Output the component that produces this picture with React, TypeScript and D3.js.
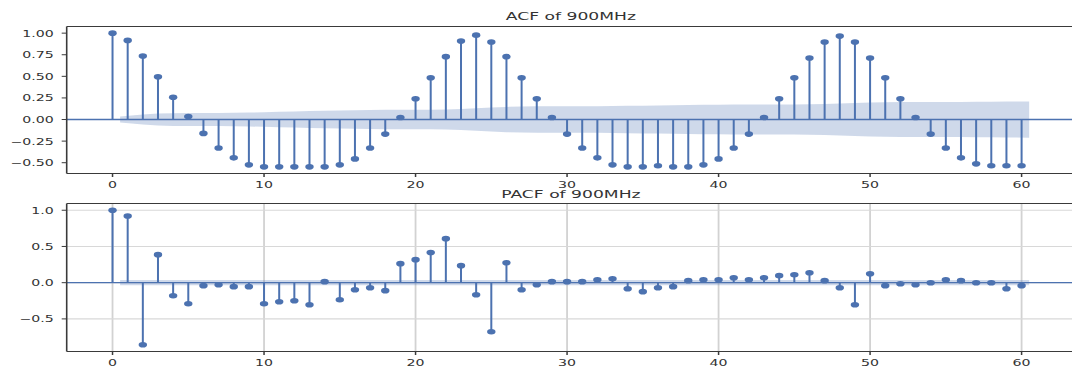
import React, { useEffect, useRef } from "react";
import * as d3 from "d3";

const W = 1072;
const H = 367;
const SX = 1.52; // the source picture is stretched sideways

const lags = d3.range(0, 61);

const acfValues = [
  1.0, 0.916, 0.736, 0.494, 0.257, 0.034, -0.161, -0.33, -0.444, -0.525,
  -0.548, -0.548, -0.548, -0.548, -0.548, -0.525, -0.456, -0.33, -0.169, 0.023,
  0.241, 0.483, 0.728, 0.908, 0.977, 0.897, 0.728, 0.483, 0.241, 0.023,
  -0.169, -0.33, -0.444, -0.525, -0.548, -0.548, -0.536, -0.548, -0.548, -0.525,
  -0.456, -0.33, -0.169, 0.023, 0.241, 0.483, 0.713, 0.897, 0.966, 0.897,
  0.713, 0.483, 0.241, 0.023, -0.169, -0.33, -0.444, -0.513, -0.536, -0.536,
  -0.536,
];

const pacfValues = [
  1.0, 0.92, -0.857, 0.387, -0.18, -0.29, -0.041, -0.028, -0.055, -0.055,
  -0.29, -0.263, -0.249, -0.304, 0.014, -0.235, -0.097, -0.069, -0.11, 0.263,
  0.318, 0.415, 0.608, 0.235, -0.166, -0.677, 0.276, -0.097, -0.028, 0.014,
  0.014, 0.014, 0.041, 0.055, -0.083, -0.124, -0.069, -0.055, 0.028, 0.041,
  0.041, 0.069, 0.041, 0.069, 0.097, 0.11, 0.138, 0.028, -0.069, -0.304,
  0.124, -0.041, -0.014, -0.028, 0.0, 0.041, 0.028, 0.0, 0.0, -0.083,
  -0.041,
];

const nObs = 3000;
const xTicks = [0, 10, 20, 30, 40, 50, 60];
const acfTicks = [1.0, 0.75, 0.5, 0.25, 0.0, -0.25, -0.5];
const pacfTicks = [1.0, 0.5, 0.0, -0.5];

const blue = "#4c72b0";
const spine = "#3a3a3a";
const textCol = "#333";
const font = "DejaVu Sans, sans-serif";

// Bartlett band for the ACF, white-noise band for the PACF
function acfBand() {
  let s = 0;
  return lags.slice(1).map((k) => {
    const hw = 1.96 * Math.sqrt((1 + 2 * s) / nObs);
    s += acfValues[k] * acfValues[k];
    return hw;
  });
}
function pacfBand() {
  return lags.slice(1).map(() => 1.96 / Math.sqrt(nObs));
}

const fmtMinus = (s: string) => s.replace("-", "\u2212");

type Panel = {
  id: string;
  title: string;
  top: number;
  bottom: number;
  yDomain: [number, number];
  yTicks: number[];
  yFmt: (v: number) => string;
  values: number[];
  band: number[];
  grid: boolean;
  titleY: number;
  xLabelY: number;
};

const App = () => {
  const ref = useRef<SVGSVGElement>(null);

  useEffect(() => {
    const svg = d3.select(ref.current);
    svg.selectAll("*").remove();

    const left = 66.7;
    const x = d3.scaleLinear().domain([-3.025, 63.525]).range([left, 1075]);

    const panels: Panel[] = [
      {
        id: "acf",
        title: "ACF of 900MHz",
        top: 26.5,
        bottom: 173.5,
        yDomain: [-0.625, 1.077],
        yTicks: acfTicks,
        yFmt: (v) => fmtMinus(d3.format(".2f")(v)),
        values: acfValues,
        band: acfBand(),
        grid: false,
        titleY: 20,
        xLabelY: 188,
      },
      {
        id: "pacf",
        title: "PACF of 900MHz",
        top: 203.5,
        bottom: 351.5,
        yDomain: [-0.95, 1.093],
        yTicks: pacfTicks,
        yFmt: (v) => fmtMinus(d3.format(".1f")(v)),
        values: pacfValues,
        band: pacfBand(),
        grid: true,
        titleY: 197.5,
        xLabelY: 366,
      },
    ];

    const stretchedText = (
      g: d3.Selection<SVGGElement, unknown, null, undefined>,
      tx: number,
      ty: number,
      str: string,
      size: number,
      anchor: string
    ) =>
      g
        .append("text")
        .attr("transform", `translate(${tx},${ty}) scale(${SX},1)`)
        .attr("text-anchor", anchor)
        .attr("font-family", font)
        .attr("font-size", size)
        .attr("fill", textCol)
        .text(str);

    panels.forEach((p) => {
      const y = d3.scaleLinear().domain(p.yDomain).range([p.bottom, p.top]);
      const g = svg.append("g");

      g.append("clipPath")
        .attr("id", `clip-${p.id}`)
        .append("rect")
        .attr("x", left)
        .attr("y", p.top)
        .attr("width", W - left + 10)
        .attr("height", p.bottom - p.top);

      const plot = g.append("g").attr("clip-path", `url(#clip-${p.id})`);

      if (p.grid) {
        plot
          .selectAll("line.vg")
          .data(xTicks)
          .join("line")
          .attr("x1", (d) => x(d))
          .attr("x2", (d) => x(d))
          .attr("y1", p.top)
          .attr("y2", p.bottom)
          .attr("stroke", "#d2d2d2")
          .attr("stroke-width", 1.8);
        plot
          .selectAll("line.hg")
          .data(p.yTicks)
          .join("line")
          .attr("x1", left)
          .attr("x2", W + 5)
          .attr("y1", (d) => y(d))
          .attr("y2", (d) => y(d))
          .attr("stroke", "#d8d8d8")
          .attr("stroke-width", 1.1);
      }

      // confidence band
      const bandLags = lags.slice(1).map((k, i, a) =>
        i === 0 ? k - 0.5 : i === a.length - 1 ? k + 0.5 : k
      );
      const area = d3
        .area<number>()
        .x((_, i) => x(bandLags[i]))
        .y0((d) => y(-d))
        .y1((d) => y(d));
      plot
        .append("path")
        .attr("d", area(p.band))
        .attr("fill", blue)
        .attr("fill-opacity", 0.27);

      // zero line
      plot
        .append("line")
        .attr("x1", left)
        .attr("x2", W + 5)
        .attr("y1", y(0))
        .attr("y2", y(0))
        .attr("stroke", blue)
        .attr("stroke-width", 1.3);

      // stems
      plot
        .selectAll("line.stem")
        .data(lags)
        .join("line")
        .attr("x1", (d) => x(d))
        .attr("x2", (d) => x(d))
        .attr("y1", y(0))
        .attr("y2", (d) => y(p.values[d]))
        .attr("stroke", blue)
        .attr("stroke-width", 2);

      plot
        .selectAll("ellipse")
        .data(lags)
        .join("ellipse")
        .attr("cx", (d) => x(d))
        .attr("cy", (d) => y(p.values[d]))
        .attr("rx", 4.2)
        .attr("ry", 2.8)
        .attr("fill", blue);

      // spines
      g.append("line")
        .attr("x1", left)
        .attr("x2", W + 5)
        .attr("y1", p.top)
        .attr("y2", p.top)
        .attr("stroke", spine)
        .attr("stroke-width", 1.1);
      g.append("line")
        .attr("x1", left)
        .attr("x2", W + 5)
        .attr("y1", p.bottom)
        .attr("y2", p.bottom)
        .attr("stroke", spine)
        .attr("stroke-width", 1.1);
      g.append("line")
        .attr("x1", left)
        .attr("x2", left)
        .attr("y1", p.top)
        .attr("y2", p.bottom)
        .attr("stroke", spine)
        .attr("stroke-width", 1.6);

      // y ticks
      p.yTicks.forEach((v) => {
        g.append("line")
          .attr("x1", left - 5)
          .attr("x2", left)
          .attr("y1", y(v))
          .attr("y2", y(v))
          .attr("stroke", spine)
          .attr("stroke-width", 1);
        stretchedText(g, left - 13, y(v) + 3.4, p.yFmt(v), 9.3, "end");
      });

      // x ticks
      xTicks.forEach((v) => {
        g.append("line")
          .attr("x1", x(v))
          .attr("x2", x(v))
          .attr("y1", p.bottom)
          .attr("y2", p.bottom + 3.5)
          .attr("stroke", spine)
          .attr("stroke-width", 1.5);
        stretchedText(g, x(v), p.xLabelY, String(v), 9.3, "middle");
      });

      stretchedText(g, (left + 1075) / 2, p.titleY, p.title, 11.3, "middle");
    });
  }, []);

  return (
    <svg
      ref={ref}
      width={W}
      height={H}
      style={{ position: "fixed", left: 0, top: 0, background: "#fff" }}
    />
  );
};

export default App;
